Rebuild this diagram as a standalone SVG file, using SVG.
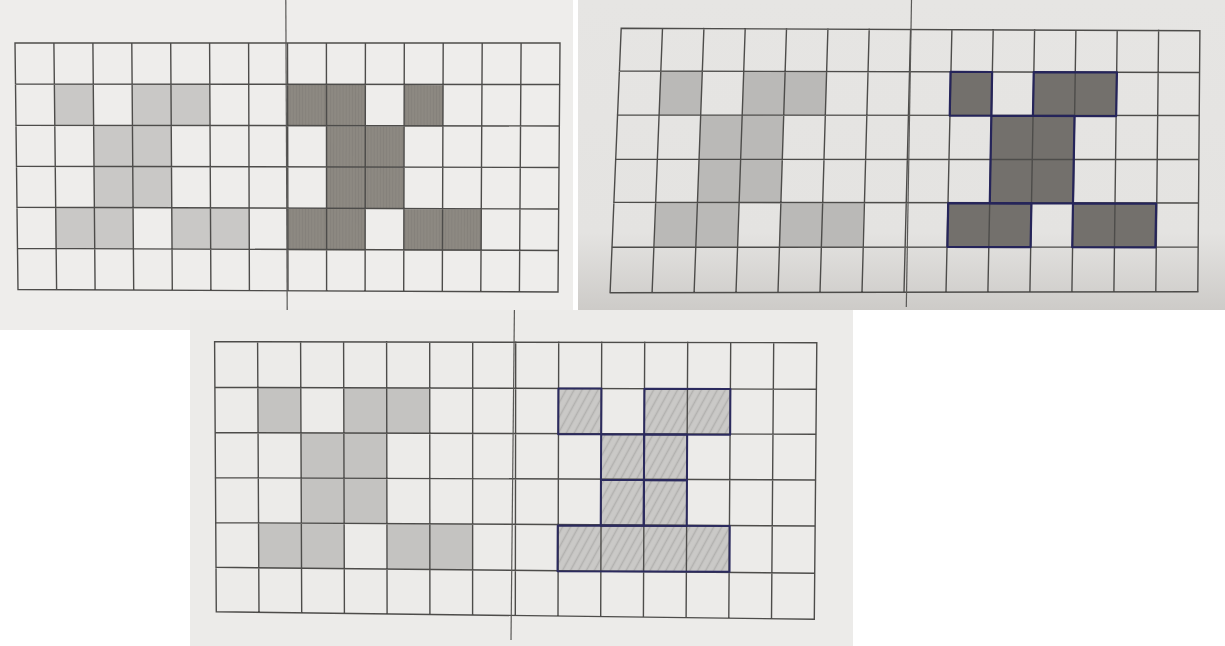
<svg xmlns="http://www.w3.org/2000/svg" width="1225" height="646" viewBox="0 0 1225 646">
<defs>
<style>
.grid{fill:none;stroke:#4d4c4a;stroke-width:1.4;stroke-linecap:square}
.axis{fill:none;stroke:#5a5957;stroke-width:1.2}
.stip1{fill:#c9c8c6}
.stip2{fill:#bab9b7}
.stip3{fill:#c4c3c1}
.pen1{fill:url(#pencil)}
</style>
<linearGradient id="bg2" x1="0" y1="0" x2="0" y2="1">
<stop offset="0" stop-color="#e6e5e3"/>
<stop offset="0.75" stop-color="#e4e3e1"/>
<stop offset="1" stop-color="#cdcbc8"/>
</linearGradient>
<pattern id="pencil" patternUnits="userSpaceOnUse" width="0.08" height="1">
<rect width="0.08" height="1" fill="#8d8982"/>
<line x1="0.03" y1="0" x2="0.03" y2="1" stroke="#85817b" stroke-width="0.025"/>
</pattern>
<pattern id="hatch" patternUnits="userSpaceOnUse" width="0.16" height="0.16" patternTransform="rotate(-60)">
<rect width="0.16" height="0.16" fill="#cac9c7"/>
<line x1="0" y1="0.08" x2="0.16" y2="0.08" stroke="#b2b1af" stroke-width="0.035"/>
</pattern>
</defs>
<rect width="1225" height="646" fill="#ffffff"/>

<g id="photo1">
<rect x="0" y="0" width="573" height="330" fill="#eeedeb"/>
<g id="p1-left" transform="matrix(38.93,0.07,0.29,41.18,15,43)">
<rect class="stip1" x="1" y="1" width="1" height="1"/>
<rect class="stip1" x="3" y="1" width="2" height="1"/>
<rect class="stip1" x="2" y="2" width="2" height="2"/>
<rect class="stip1" x="1" y="4" width="2" height="1"/>
<rect class="stip1" x="4" y="4" width="2" height="1"/>
</g>
<g id="p1-right" transform="matrix(38.93,0.07,-0.07,41.36,15,43)">
<rect class="pen1" x="7" y="1" width="2" height="1"/>
<rect class="pen1" x="10" y="1" width="1" height="1"/>
<rect class="pen1" x="8" y="2" width="2" height="2"/>
<rect class="pen1" x="7" y="4" width="2" height="1"/>
<rect class="pen1" x="10" y="4" width="2" height="1"/>
</g>
<path class="grid" d="M15,43L18,289.5M53.9,43L56.6,289.7M92.9,43L95.1,289.9M131.8,43L133.7,290M170.7,43L172.3,290.2M209.6,43L210.9,290.4M248.6,43L249.4,290.6M287.5,43L288,290.8M326.4,43L326.6,290.9M365.4,43L365.1,291.1M404.3,43L403.7,291.3M443.2,43L442.3,291.5M482.2,43L480.8,291.6M521.1,43L519.4,291.8M560,43L558,292M15,43L560,43M15.5,84.1L559.7,84.5M16,125.2L559.3,126M16.5,166.2L559,167.5M17,207.3L558.7,209M17.5,248.4L558.3,250.5M18,289.5L558,292"/>
<path class="axis" d="M285.8,0L287.2,310"/>
</g>

<g id="photo2">
<rect x="578" y="0" width="647" height="310" fill="url(#bg2)"/>
<g id="p2-left" transform="matrix(41.6,0.1,-1.53,43.95,620.4,27.2)">
<rect class="stip2" x="1" y="1" width="1" height="1"/>
<rect class="stip2" x="3" y="1" width="2" height="1"/>
<rect class="stip2" x="2" y="2" width="2" height="2"/>
<rect class="stip2" x="1" y="4" width="2" height="1"/>
<rect class="stip2" x="4" y="4" width="2" height="1"/>
</g>
<g id="p2-right-fill" transform="matrix(41.6,0.1,-0.777,43.75,618.5,27.35)">
<rect fill="#73706c" x="8" y="1" width="1" height="1"/>
<rect fill="#73706c" x="10" y="1" width="2" height="1"/>
<rect fill="#73706c" x="9" y="2" width="2" height="2"/>
<rect fill="#73706c" x="8" y="4" width="2" height="1"/>
<rect fill="#73706c" x="11" y="4" width="2" height="1"/>
</g>
<path class="grid" d="M621.2,28.3L610.1,292.7M662.5,28.5L652.1,292.6M703.9,28.6L694.1,292.6M745.2,28.8L736,292.5M786.5,29L778,292.4M827.9,29.2L820,292.3M869.2,29.3L862,292.3M910.6,29.5L904,292.2M951.9,29.7L946,292.1M993.2,29.8L987.9,292.1M1034.6,30L1029.9,292M1075.9,30.2L1071.9,291.9M1117.2,30.4L1113.9,291.8M1158.6,30.5L1155.8,291.8M1199.9,30.7L1197.8,291.7M621.2,28.3L1199.9,30.7M619.35,71L1199.55,72.5M617.5,115L1199.2,115.5M615.65,159.3L1198.85,159.5M613.8,202.3L1198.5,203M611.950,247.3L1198.15,247M610.1,292.7L1197.8,291.7"/>
<g id="p2-right-outline" transform="matrix(41.6,0.1,-0.777,43.75,618.5,27.35)" fill="none" stroke="#25245a" stroke-width="2.2" stroke-linejoin="round">
<rect vector-effect="non-scaling-stroke" x="8" y="1" width="1" height="1"/>
<rect vector-effect="non-scaling-stroke" x="10" y="1" width="2" height="1"/>
<rect vector-effect="non-scaling-stroke" x="9" y="2" width="2" height="2"/>
<rect vector-effect="non-scaling-stroke" x="8" y="4" width="2" height="1"/>
<rect vector-effect="non-scaling-stroke" x="11" y="4" width="2" height="1"/>
</g>
<path class="axis" d="M911.5,0L906.3,307"/>
</g>

<g id="photo3">
<rect x="190" y="310" width="663" height="336" fill="#ecebe9"/>
<g id="p3-left" transform="matrix(43.0,0.13,0.11,45.25,214.6,342.1)">
<rect class="stip3" x="1" y="1" width="1" height="1"/>
<rect class="stip3" x="3" y="1" width="2" height="1"/>
<rect class="stip3" x="2" y="2" width="2" height="2"/>
<rect class="stip3" x="1" y="4" width="2" height="1"/>
<rect class="stip3" x="4" y="4" width="2" height="1"/>
</g>
<g id="p3-right-fill" transform="matrix(43.0,0.13,-0.217,45.7,214.6,341.7)">
<rect fill="url(#hatch)" x="8" y="1" width="1" height="1"/>
<rect fill="url(#hatch)" x="10" y="1" width="2" height="1"/>
<rect fill="url(#hatch)" x="9" y="2" width="2" height="2"/>
<rect fill="url(#hatch)" x="8" y="4" width="4" height="1"/>
</g>
<path class="grid" d="M214.6,341.7L216.3,611.7M257.6,341.8L259,612.2M300.6,341.8L301.7,612.8M343.6,341.9L344.4,613.3M386.6,342L387.1,613.9M429.7,342.1L429.9,614.4M472.7,342.1L472.6,615M515.7,342.2L515.3,615.5M558.7,342.3L558,616M601.7,342.3L600.7,616.6M644.7,342.4L643.4,617.1M687.7,342.5L686.1,617.7M730.7,342.6L728.8,618.2M773.7,342.6L771.5,618.8M816.8,342.7L814.3,619.3M214.6,341.7L816.8,342.7M214.9,387.3L816.4,389.3M215.2,432.7L816,434.3M215.4,477.7L815.6,480M215.7,522.7L815.1,526M216,567.3L814.7,573.3M216.3,611.7L814.3,619.3"/>
<g id="p3-right-outline" transform="matrix(43.0,0.13,-0.217,45.7,214.6,341.7)" fill="none" stroke="#2b2a5e" stroke-width="2" stroke-linejoin="round">
<rect vector-effect="non-scaling-stroke" x="8" y="1" width="1" height="1"/>
<rect vector-effect="non-scaling-stroke" x="10" y="1" width="2" height="1"/>
<rect vector-effect="non-scaling-stroke" x="9" y="2" width="1" height="1"/>
<rect vector-effect="non-scaling-stroke" x="10" y="2" width="1" height="1"/>
<rect vector-effect="non-scaling-stroke" x="9" y="3" width="1" height="1"/>
<rect vector-effect="non-scaling-stroke" x="10" y="3" width="1" height="1"/>
<rect vector-effect="non-scaling-stroke" x="8" y="4" width="4" height="1"/>
</g>
<path class="axis" d="M514.4,310L511,640"/>
</g>
</svg>
